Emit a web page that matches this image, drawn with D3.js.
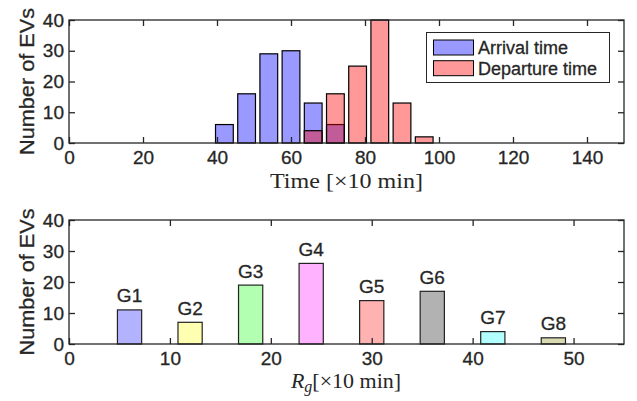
<!DOCTYPE html>
<html>
<head>
<meta charset="utf-8">
<script src="https://cdn.jsdelivr.net/npm/d3@7"></script>
<style>
  html, body { margin: 0; padding: 0; background: #fff; }
  svg { display: block; }
  text { fill: #262626; }
  text.sans { stroke: #262626; stroke-width: 0.3px; }
</style>
</head>
<body>
<svg id="chart" width="637" height="401"></svg>
<script>
// ---- data ----
const binCenters = [42, 48, 54, 60, 66, 72, 78, 84, 90, 96];
const arrivalCounts = [6, 16, 29, 30, 13, 6, 0, 0, 0, 0];
const departureCounts = [0, 0, 0, 0, 4, 16, 25, 40, 13, 2];
const seriesNames = ["Arrival time", "Departure time"];
const seriesColors = ["#0000ff", "#ff0000"];

const groupNames = ["G1", "G2", "G3", "G4", "G5", "G6", "G7", "G8"];
const groupCenters = [6, 12, 18, 24, 30, 36, 42, 48];
const groupCounts = [11, 7, 19, 26, 14, 17, 4, 2];
const groupColors = ["#0000ff", "#ffff00", "#00ff00", "#ff00ff", "#ff0000", "#000000", "#00ffff", "#808000"];

const topXTicks = [0, 20, 40, 60, 80, 100, 120, 140];
const botXTicks = [0, 10, 20, 30, 40, 50];
const yTicks = [0, 10, 20, 30, 40];

// ---- layout ----
const svg = d3.select("#chart");
const L = 69, R = 624;
const topBox = { top: 20, bottom: 143 };
const botBox = { top: 220, bottom: 344 };
const axisColor = "#262626";
const tickFont = "'Liberation Sans', Arial, sans-serif";

function drawFrame(g, x, y, xticks, box) {
  const xb = g.append("g").attr("transform", `translate(0,${box.bottom})`)
    .call(d3.axisBottom(x).tickValues(xticks).tickSizeInner(-6).tickSizeOuter(0).tickPadding(8).tickFormat(d3.format("d")));
  const xt = g.append("g").attr("transform", `translate(0,${box.top})`)
    .call(d3.axisTop(x).tickValues(xticks).tickSizeInner(-6).tickSizeOuter(0).tickFormat(""));
  const yl = g.append("g").attr("transform", `translate(${L},0)`)
    .call(d3.axisLeft(y).tickValues(yTicks).tickSizeInner(-6).tickSizeOuter(0).tickPadding(5).tickFormat(d3.format("d")));
  const yr = g.append("g").attr("transform", `translate(${R},0)`)
    .call(d3.axisRight(y).tickValues(yTicks).tickSizeInner(-6).tickSizeOuter(0).tickFormat(""));
  [xb, xt, yl, yr].forEach(a => {
    a.select(".domain").remove();
    a.selectAll(".tick line").attr("stroke", axisColor).attr("stroke-width", 1.3);
    a.selectAll(".tick text").attr("class", "sans").attr("font-family", tickFont).attr("font-size", 19).attr("fill", axisColor);
  });
  g.append("rect").attr("x", L).attr("y", box.top).attr("width", R - L).attr("height", box.bottom - box.top)
    .attr("fill", "none").attr("stroke", axisColor).attr("stroke-width", 1.3);
}

// ---- top chart ----
const xTop = d3.scaleLinear().domain([0, 150]).range([L, R]);
const yTop = d3.scaleLinear().domain([0, 40]).range([topBox.bottom, topBox.top]);
const gTop = svg.append("g");
const binW = 4.8;
[arrivalCounts, departureCounts].forEach((counts, si) => {
  gTop.append("g").selectAll("rect")
    .data(binCenters.map((c, i) => ({ c, v: counts[i] })).filter(d => d.v > 0))
    .join("rect")
    .attr("x", d => xTop(d.c - binW / 2))
    .attr("width", d => xTop(d.c + binW / 2) - xTop(d.c - binW / 2))
    .attr("y", d => yTop(d.v))
    .attr("height", d => yTop(0) - yTop(d.v))
    .attr("fill", seriesColors[si]).attr("fill-opacity", 0.4)
    .attr("stroke", "#000").attr("stroke-width", 1.2);
});
drawFrame(gTop, xTop, yTop, topXTicks, topBox);

// legend
const leg = svg.append("g");
leg.append("rect").attr("x", 426.5).attr("y", 32.5).attr("width", 183).attr("height", 50)
  .attr("fill", "#fff").attr("stroke", axisColor).attr("stroke-width", 1);
seriesNames.forEach((n, i) => {
  const yy = 40 + i * 20.7;
  leg.append("rect").attr("x", 433.5).attr("y", yy).attr("width", 40).attr("height", 15)
    .attr("fill", seriesColors[i]).attr("fill-opacity", 0.4).attr("stroke", "#000").attr("stroke-width", 1);
  leg.append("text").attr("class", "sans").attr("x", 478).attr("y", yy + 14).text(n)
    .attr("font-family", tickFont).attr("font-size", 18);
});

// y labels & x labels
function yLabel(cy) {
  svg.append("text").attr("class", "sans").attr("transform", `translate(34,${cy}) rotate(-90)`)
    .attr("text-anchor", "middle").attr("font-family", tickFont).attr("font-size", 20)
    .attr("textLength", 147).attr("lengthAdjust", "spacingAndGlyphs")
    .text("Number of EVs");
}
yLabel((topBox.top + topBox.bottom) / 2);
yLabel((botBox.top + botBox.bottom) / 2);

svg.append("text").attr("x", 346.5).attr("y", 188).attr("text-anchor", "middle")
  .attr("font-family", "'Liberation Serif', 'Times New Roman', serif").attr("font-size", 22)
  .attr("textLength", 153).attr("lengthAdjust", "spacingAndGlyphs")
  .text("Time [×10 min]");

// ---- bottom chart ----
const xBot = d3.scaleLinear().domain([0, 55]).range([L, R]);
const yBot = d3.scaleLinear().domain([0, 40]).range([botBox.bottom, botBox.top]);
const gBot = svg.append("g");
const gW = 2.4;
const gd = groupNames.map((n, i) => ({ n, c: groupCenters[i], v: groupCounts[i], col: groupColors[i] }));
gBot.append("g").selectAll("rect").data(gd).join("rect")
  .attr("x", d => xBot(d.c - gW / 2))
  .attr("width", d => xBot(d.c + gW / 2) - xBot(d.c - gW / 2))
  .attr("y", d => yBot(d.v))
  .attr("height", d => yBot(0) - yBot(d.v))
  .attr("fill", d => d.col).attr("fill-opacity", 0.3)
  .attr("stroke", "#222").attr("stroke-width", 1.2);
gBot.append("g").selectAll("text").data(gd).join("text")
  .attr("class", "sans")
  .attr("x", d => xBot(d.c)).attr("y", d => yBot(d.v) - 7.5)
  .attr("text-anchor", "middle").attr("font-family", tickFont).attr("font-size", 19)
  .text(d => d.n);
drawFrame(gBot, xBot, yBot, botXTicks, botBox);

const xl = svg.append("text").attr("x", 346).attr("y", 388).attr("text-anchor", "middle")
  .attr("font-family", "'Liberation Serif', 'Times New Roman', serif").attr("font-size", 22);
xl.append("tspan").attr("font-style", "italic").text("R");
xl.append("tspan").attr("font-style", "italic").attr("font-size", 16).attr("dy", 4).text("g");
xl.append("tspan").attr("dy", -4).text("[×10 min]");
</script>
</body>
</html>
